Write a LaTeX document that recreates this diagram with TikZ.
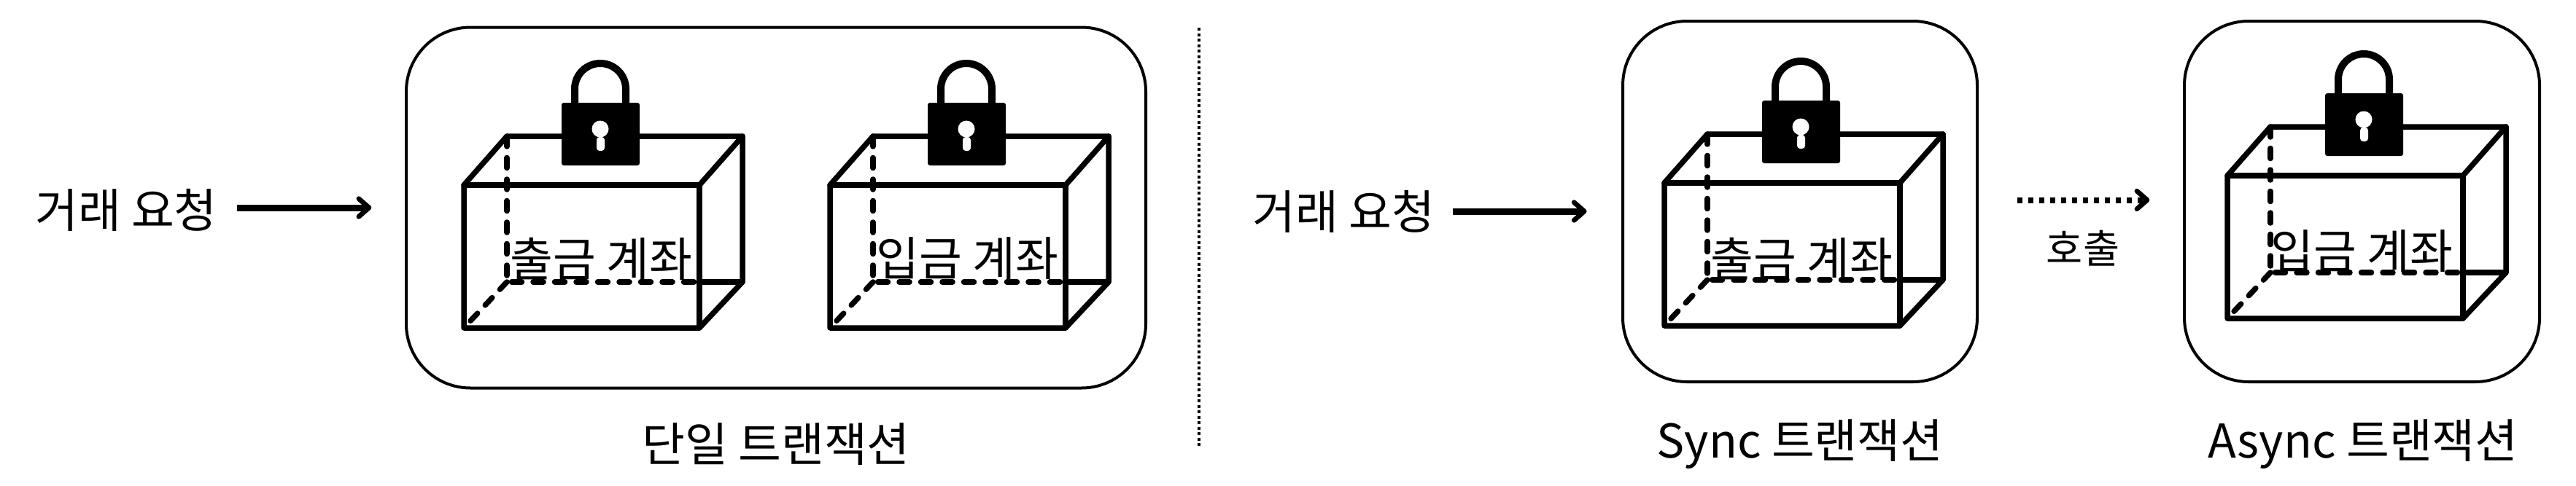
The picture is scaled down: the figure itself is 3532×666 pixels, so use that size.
\documentclass[tikz,border=0pt]{standalone}
\usepackage{fontspec}
\usetikzlibrary{arrows.meta}
\setmainfont{Noto Sans CJK KR}
\newlength{\px}\setlength{\px}{0.02cm}
\tikzset{
  x=0.02cm, y=-0.02cm,
  container/.style={draw=black,line width=4\px,rounded corners=88\px,inner sep=0pt,fill=none},
  cubeline/.style={draw=black,line width=7.5\px,line join=round,line cap=round},
  cubedash/.style={draw=black,line width=7.5\px,line cap=round,dash pattern=on 14\px off 15.5\px},
  biglabel/.style={font=\fontsize{36.4}{40}\selectfont,inner sep=0pt,text=black},
  smalllabel/.style={font=\fontsize{31}{36}\selectfont,inner sep=0pt,text=black},
  flow/.style={line width=9\px,-{Straight Barb[round,length=8pt,width=14pt,line width=3.8pt]}},
  dotflow/.style={line width=8\px,dash pattern=on 7\px off 8\px,-{Straight Barb[round,length=8pt,width=14pt,line width=3.8pt,sep=0pt]}},
  pics/lockedcube/.style={code={
    \draw[cubedash] (695,187) -- (695,387) -- (959,387);
    \draw[cubedash] (695,387) -- (636,450);
    \draw[cubeline] (959,387) -- (1018,387);
    \draw[cubeline] (636,254) -- (695,187) -- (1018,187) -- (1018,387) -- (959,450) -- (636,450) -- cycle;
    \draw[cubeline] (636,254) -- (959,254) -- (959,450);
    \draw[cubeline] (959,254) -- (1018,187);
    \draw[line width=10\px,draw=black] (788,145) -- (788,122) arc[start angle=180,end angle=0,radius=35\px] -- (858,145);
    \fill[black,rounded corners=3\px] (770,141) rectangle (877,227);
    \fill[white] (823,177) circle[radius=11.5\px];
    \fill[white,rounded corners=4\px] (818,188) rectangle (829,207);
  }}
}
\begin{document}
\begin{tikzpicture}
\useasboundingbox (0,0) rectangle (3532,666);
% containers
\node[container,minimum width=1014\px,minimum height=495\px] (box1) at (1064,285) {};
\node[container,minimum width=486\px,minimum height=495\px] (box2) at (2468,276.5) {};
\node[container,minimum width=487\px,minimum height=495\px] (box3) at (3238.5,276.5) {};
% locked cubes
\pic at (0,0) {lockedcube};
\pic at (502,0) {lockedcube};
\pic at (1646,-3) {lockedcube};
\pic at (2418,-13) {lockedcube};
% labels
\node[biglabel] (acc1) at (824,355) {출금 계좌};
\node[biglabel] (acc2) at (1326,355) {입금 계좌};
\node[biglabel] (acc3) at (2470,355) {출금 계좌};
\node[biglabel] (acc4) at (3238,345) {입금 계좌};
\node[biglabel] (req1) at (173,288) {거래 요청};
\node[biglabel] (req2) at (1842,290) {거래 요청};
\node[biglabel] (cap1) at (1064,610) {단일 트랜잭션};
\node[biglabel] (cap2) at (2468,610) {Sync 트랜잭션};
\node[biglabel] (cap3) at (3240,610) {Async 트랜잭션};
\node[smalllabel] (call) at (2856,341) {호출};
% connectors
\coordinate (reqAY) at (0,285);
\coordinate (reqBY) at (0,290);
\coordinate (callY) at (0,274.5);
\draw[flow,shorten <=15pt,shorten >=26pt] (req1.east |- reqAY) -- (box1.west |- reqAY);
\draw[flow,shorten <=14pt,shorten >=27pt] (req2.east |- reqBY) -- (box2.west |- reqBY);
\draw[dotflow,shorten <=30pt,shorten >=26pt] (box2.east |- callY) -- (box3.west |- callY);
% divider
\coordinate (divTop) at (1644,38);
\coordinate (divBot) at (1644,615);
\draw[line width=4\px,dash pattern=on 4\px off 3.5\px] (divTop) -- (divBot);
\end{tikzpicture}
\end{document}
